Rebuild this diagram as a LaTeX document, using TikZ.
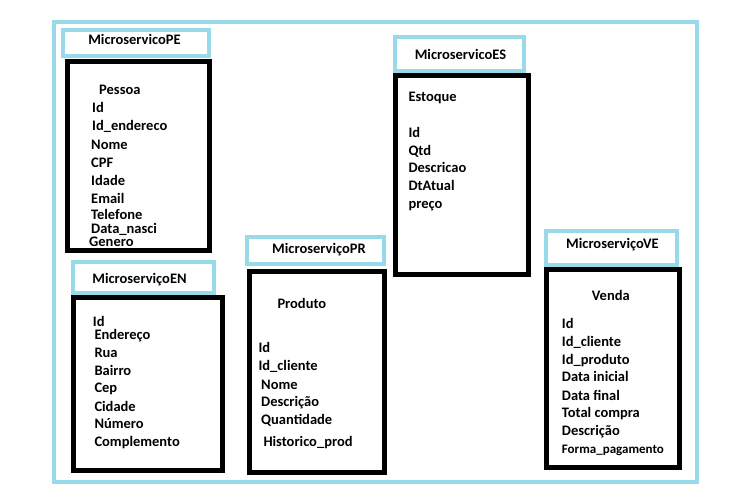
\documentclass[tikz,border=0pt]{standalone}
\usepackage{fontspec}
\setmainfont{Carlito}
\definecolor{lblue}{RGB}{153,217,234}
\begin{document}
\begin{tikzpicture}[x=1pt,y=-1pt,
  frame/.style={draw=lblue, line width=4.5pt},
  hdrbox/.style={draw=lblue, line width=4pt},
  tblbox/.style={draw=black, line width=5pt},
  lbl/.style={anchor=base west, inner sep=0pt, font=\bfseries\fontsize{14.5}{16}\selectfont},
  small/.style={anchor=base west, inner sep=0pt, font=\bfseries\fontsize{13}{15}\selectfont},
  hlbl/.style={anchor=base, inner sep=0pt, font=\bfseries\fontsize{14.5}{16}\selectfont}]
\path[use as bounding box, fill=white] (0,0) rectangle (740,490);
% outer frame
\draw[frame] (54,22) rectangle (697,482);
% boxes
\draw[hdrbox] (63,30) rectangle (209,56);
\draw[tblbox] (67,61.5) rectangle (209,250.5);
\draw[hdrbox] (73,262) rectangle (214,293);
\draw[tblbox] (73,297.5) rectangle (222,470.5);
\draw[hdrbox] (247,237) rectangle (384,264);
\draw[tblbox] (249.5,271.5) rectangle (384.5,472);
\draw[hdrbox] (394.5,37) rectangle (524,71);
\draw[tblbox] (395.5,75) rectangle (528,274.5);
\draw[hdrbox] (545.5,230.5) rectangle (676.5,264.5);
\draw[tblbox] (546.5,269.5) rectangle (679.5,467.5);
% headers
\node[hlbl] (hPE) at (134.5,44) {MicroservicoPE};
\node[hlbl] (hEN) at (139.5,283) {MicroserviçoEN};
\node[hlbl] (hPR) at (319,253) {MicroserviçoPR};
\node[hlbl] (hES) at (460.5,59) {MicroservicoES};
\node[hlbl] (hVE) at (612.5,248) {MicroserviçoVE};
% Pessoa
\node[lbl] (pe0) at (99,94) {Pessoa};
\node[lbl] (pe1) at (92,112) {Id};
\node[lbl] (pe2) at (92,130) {Id\_endereco};
\node[lbl] (pe3) at (91,149) {Nome};
\node[lbl] (pe4) at (91,167) {CPF};
\node[lbl] (pe5) at (91,185) {Idade};
\node[lbl] (pe6) at (91,203) {Email};
\node[lbl] (pe7) at (91,219.5) {Telefone};
\node[lbl] (pe8) at (91,233) {Data\_nasci};
\node[lbl] (pe9) at (89,246.5) {Genero};
% Endereco
\node[lbl] (en1) at (92.7,326) {Id};
\node[lbl] (en2) at (94.3,339) {Endereço};
\node[lbl] (en3) at (94.3,357) {Rua};
\node[lbl] (en4) at (94.3,375) {Bairro};
\node[lbl] (en5) at (94.3,392.7) {Cep};
\node[lbl] (en6) at (94.3,411) {Cidade};
\node[lbl] (en7) at (94.3,428) {Número};
\node[lbl] (en8) at (94.3,446) {Complemento};
% Produto
\node[lbl] (pr0) at (277.3,308) {Produto};
\node[lbl] (pr1) at (258.3,352.7) {Id};
\node[lbl] (pr2) at (258.3,370.7) {Id\_cliente};
\node[lbl] (pr3) at (261,389) {Nome};
\node[lbl] (pr4) at (261,406.7) {Descrição};
\node[lbl] (pr5) at (261,424.3) {Quantidade};
\node[lbl] (pr6) at (263.3,446.7) {Historico\_prod};
% Estoque
\node[lbl] (es0) at (408.3,101) {Estoque};
\node[lbl] (es1) at (408.3,137.7) {Id};
\node[lbl] (es2) at (408.3,155) {Qtd};
\node[lbl] (es3) at (408.3,172.7) {Descricao};
\node[lbl] (es4) at (408.3,190) {DtAtual};
\node[lbl] (es5) at (408.3,208.3) {preço};
% Venda
\node[lbl] (ve0) at (591.7,300) {Venda};
\node[lbl] (ve1) at (561.7,328.3) {Id};
\node[lbl] (ve2) at (561.7,346) {Id\_cliente};
\node[lbl] (ve3) at (561.7,364) {Id\_produto};
\node[lbl] (ve4) at (561.7,381.7) {Data inicial};
\node[lbl] (ve5) at (561.7,400) {Data final};
\node[lbl] (ve6) at (561.7,417.3) {Total compra};
\node[lbl] (ve7) at (561.7,435) {Descrição};
\node[small] (ve8) at (561.7,453.3) {Forma\_pagamento};
\end{tikzpicture}
\end{document}
